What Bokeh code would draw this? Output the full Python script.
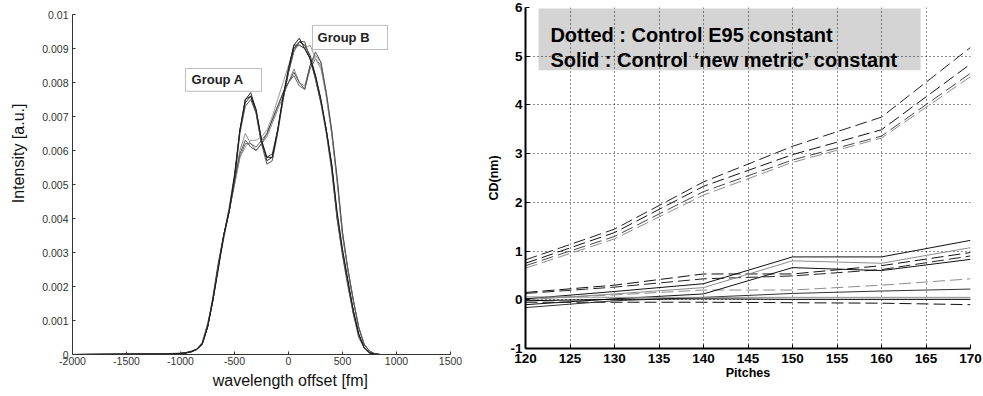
from bokeh.plotting import figure
from bokeh.layouts import row
from bokeh.models import BoxAnnotation, Label, FixedTicker, CustomJSTickFormatter, Range1d
from bokeh.embed import file_html
from bokeh.resources import INLINE

# ---------------- left chart data ----------------
wavelength = [-2000, -1500, -1100, -1000, -950, -900, -850, -800, -750, -700, -650, -600, -550, -500,
              -450, -400, -350, -300, -250, -200, -150, -100, -50, 0, 50, 100, 150, 200, 250, 300,
              350, 400, 450, 500, 550, 600, 650, 700, 750, 800, 850, 1130]

group_a_1 = [0, 0.00001, 0.00002, 0.00003, 0.00005, 0.00008, 0.00015, 0.0003, 0.0008, 0.0016, 0.0026, 0.0035, 0.0042, 0.0052,
             0.0066, 0.0075, 0.0077, 0.0072, 0.0063, 0.0057, 0.0058, 0.0066, 0.0075, 0.0083, 0.0090, 0.0092, 0.0091, 0.0088,
             0.0082, 0.0075, 0.0066, 0.0056, 0.0041, 0.0030, 0.0021, 0.0013, 0.0006, 0.0002, 0.00005, 0.00001, 0, 0]
group_a_2 = [0, 0, 0.00001, 0.00002, 0.00004, 0.00008, 0.00014, 0.0003, 0.0008, 0.0017, 0.0027, 0.0035, 0.0043, 0.0053,
             0.0066, 0.0074, 0.0076, 0.0071, 0.0062, 0.0058, 0.0059, 0.0066, 0.0076, 0.0084, 0.0091, 0.0091, 0.0090, 0.0087,
             0.0081, 0.0074, 0.0066, 0.0055, 0.0040, 0.0030, 0.0021, 0.0012, 0.0006, 0.0002, 0.00005, 0.00001, 0, 0]
group_a_3 = [0, 0.00002, 0.00003, 0.00004, 0.00006, 0.0001, 0.00016, 0.00035, 0.0009, 0.0016, 0.0026, 0.0034, 0.0042, 0.0051,
             0.0065, 0.0073, 0.0075, 0.0071, 0.0062, 0.0056, 0.0057, 0.0065, 0.0075, 0.0083, 0.0089, 0.0092, 0.0092, 0.0087,
             0.0081, 0.0074, 0.0065, 0.0054, 0.0040, 0.0029, 0.0020, 0.0012, 0.0005, 0.0002, 0.00004, 0.00001, 0, 0]
group_a_4 = [0, 0.00001, 0.00002, 0.00003, 0.00005, 0.00009, 0.00015, 0.0003, 0.0008, 0.0016, 0.0025, 0.0035, 0.0042, 0.0052,
             0.0066, 0.0075, 0.0076, 0.0072, 0.0063, 0.0058, 0.0058, 0.0066, 0.0076, 0.0084, 0.0091, 0.0093, 0.0090, 0.0087,
             0.0082, 0.0075, 0.0066, 0.0056, 0.0042, 0.0031, 0.0022, 0.0013, 0.0006, 0.0002, 0.00005, 0.00001, 0, 0]

group_b_1 = [0, 0.00001, 0.00002, 0.00003, 0.00005, 0.00008, 0.00015, 0.0003, 0.0008, 0.0016, 0.0026, 0.0035, 0.0042, 0.0051,
             0.0060, 0.0065, 0.0062, 0.0060, 0.0062, 0.0064, 0.0068, 0.0072, 0.0076, 0.0080, 0.0084, 0.0080, 0.0079, 0.0085,
             0.0088, 0.0086, 0.0077, 0.0066, 0.0052, 0.0036, 0.0025, 0.0016, 0.0008, 0.0003, 0.0001, 0.00002, 0, 0]
group_b_2 = [0, 0.00001, 0.00002, 0.00003, 0.00005, 0.00008, 0.00015, 0.0003, 0.0008, 0.0016, 0.0026, 0.0035, 0.0042, 0.0050,
             0.0058, 0.0062, 0.0062, 0.0061, 0.0063, 0.0065, 0.0069, 0.0073, 0.0077, 0.0080, 0.0082, 0.0079, 0.0078, 0.0084,
             0.0087, 0.0085, 0.0076, 0.0065, 0.0051, 0.0035, 0.0025, 0.0016, 0.0008, 0.0003, 0.0001, 0.00002, 0, 0]
group_b_3 = [0, 0.00001, 0.00002, 0.00003, 0.00005, 0.00008, 0.00015, 0.0003, 0.0008, 0.0016, 0.0026, 0.0035, 0.0042, 0.0050,
             0.0058, 0.0061, 0.0063, 0.0063, 0.0064, 0.0066, 0.0070, 0.0075, 0.0080, 0.0085, 0.0090, 0.0091, 0.0090, 0.0091,
             0.0087, 0.0084, 0.0076, 0.0065, 0.0051, 0.0035, 0.0025, 0.0016, 0.0008, 0.0003, 0.0001, 0.00002, 0, 0]
group_b_4 = [0, 0.00001, 0.00002, 0.00003, 0.00005, 0.00008, 0.00015, 0.0003, 0.0008, 0.0016, 0.0026, 0.0035, 0.0042, 0.0051,
             0.0059, 0.0063, 0.0061, 0.0060, 0.0062, 0.0065, 0.0069, 0.0073, 0.0077, 0.0080, 0.0083, 0.0080, 0.0078, 0.0085,
             0.0089, 0.0086, 0.0077, 0.0066, 0.0052, 0.0036, 0.0025, 0.0016, 0.0008, 0.0003, 0.0001, 0.00002, 0, 0]

wl_ticks = [-2000, -1500, -1000, -500, 0, 500, 1000, 1500]
intensity_ticks = [0, 0.001, 0.002, 0.003, 0.004, 0.005, 0.006, 0.007, 0.008, 0.009, 0.01]

# ---------------- right chart data ----------------
pitches = [120, 130, 140, 150, 160, 170]
pitch_ticks = [120, 125, 130, 135, 140, 145, 150, 155, 160, 165, 170]
cd_ticks = [-1, 0, 1, 2, 3, 4, 5, 6]

dotted_1 = [0.82, 1.45, 2.42, 3.15, 3.75, 5.18]
dotted_2 = [0.75, 1.38, 2.33, 2.98, 3.49, 4.84]
dotted_3 = [0.70, 1.30, 2.22, 2.87, 3.36, 4.65]
dotted_4 = [0.65, 1.25, 2.15, 2.82, 3.32, 4.58]
dotted_5 = [0.15, 0.30, 0.53, 0.53, 0.70, 0.97]
dotted_6 = [0.13, 0.26, 0.43, 0.49, 0.62, 0.90]
dotted_7 = [0.02, 0.10, 0.20, 0.20, 0.30, 0.43]
dotted_8 = [-0.05, -0.05, -0.05, -0.06, -0.07, -0.10]

solid_1 = [0.02, 0.17, 0.33, 0.88, 0.88, 1.22]
solid_2 = [0.00, 0.12, 0.25, 0.80, 0.75, 1.07]
solid_3 = [-0.10, 0.02, 0.12, 0.66, 0.60, 0.83]
solid_4 = [-0.16, -0.02, 0.05, 0.13, 0.18, 0.22]
solid_5 = [0.06, 0.05, 0.05, 0.05, 0.05, 0.05]
solid_6 = [-0.02, 0.01, 0.02, 0.01, 0.01, 0.01]

FONT = "Liberation Sans"
plain_fmt = "return String(Math.round(tick));"
NBSP = "\u00a0"

# ================= left figure =================
p1 = figure(frame_width=378, frame_height=340, output_backend="svg", toolbar_location=None,
            x_range=Range1d(-2000, 1500), y_range=Range1d(0, 0.01), frame_align=False,
            min_border_left=72, min_border_right=30, min_border_top=14, min_border_bottom=42)
p1.outline_line_color = None
p1.grid.visible = False
p1.background_fill_color = "white"
p1.border_fill_color = "white"

for ys, col in [(group_b_1, "#8a8a8a"), (group_b_2, "#6a6a6a"), (group_b_3, "#9a9a9a"), (group_b_4, "#505050"),
                (group_a_1, "#2a2a2a"), (group_a_2, "#3c3c3c"), (group_a_3, "#555555"), (group_a_4, "#1a1a1a")]:
    p1.line(wavelength, ys, line_color=col, line_width=1.0)

p1.xaxis.ticker = FixedTicker(ticks=wl_ticks)
p1.yaxis.ticker = FixedTicker(ticks=intensity_ticks)
p1.xaxis.formatter = CustomJSTickFormatter(code=plain_fmt)
p1.yaxis.formatter = CustomJSTickFormatter(
    code="if (Math.abs(tick) < 1e-12) { return '0'; } return tick.toFixed(3).replace(/0+$/, '');")
for ax in (p1.xaxis[0], p1.yaxis[0]):
    ax.axis_line_color = "#333333"
    ax.major_tick_line_color = "#333333"
    ax.major_tick_in = 3
    ax.major_tick_out = 0
    ax.minor_tick_line_color = None
    ax.major_label_text_font = FONT
    ax.major_label_text_font_size = "10.5px"
    ax.major_label_text_color = "#333333"
    ax.axis_label_text_font = FONT
    ax.axis_label_text_font_size = "16px"
    ax.axis_label_text_font_style = "normal"
    ax.axis_label_text_color = "#111111"
# leading no-break spaces shift the titles off-centre, as in the reference
p1.xaxis.axis_label = NBSP * 13 + "wavelength offset [fm]"
p1.yaxis.axis_label = NBSP * 14 + "Intensity [a.u.]"
p1.xaxis.major_label_standoff = 2
p1.yaxis.major_label_standoff = 4
p1.xaxis.axis_label_standoff = 4
p1.yaxis.axis_label_standoff = 12

box_a = BoxAnnotation(left=-954, right=-250, bottom=0.00774, top=0.00841,
                      fill_color="white", fill_alpha=1, line_color="#222222", line_width=1)
box_b = BoxAnnotation(left=222, right=917, bottom=0.00897, top=0.00968,
                      fill_color="white", fill_alpha=1, line_color="#222222", line_width=1)
p1.add_layout(box_a)
p1.add_layout(box_b)
p1.add_layout(Label(x=-898, y=0.00808, text="Group A", text_font=FONT, text_font_size="13px",
                    text_font_style="bold", text_baseline="middle", text_color="#222222"))
p1.add_layout(Label(x=269, y=0.00932, text="Group B", text_font=FONT, text_font_size="13px",
                    text_font_style="bold", text_baseline="middle", text_color="#222222"))

# ================= right figure =================
p2 = figure(frame_width=445, frame_height=341, output_backend="svg", toolbar_location=None,
            x_range=Range1d(120, 170), y_range=Range1d(-1, 6), frame_align=False,
            min_border_left=45, min_border_right=13, min_border_top=7, min_border_bottom=48)
p2.outline_line_color = None
p2.background_fill_color = "white"
p2.border_fill_color = "white"
p2.xaxis.ticker = FixedTicker(ticks=pitch_ticks)
p2.yaxis.ticker = FixedTicker(ticks=cd_ticks)
p2.xaxis.formatter = CustomJSTickFormatter(code=plain_fmt)
p2.yaxis.formatter = CustomJSTickFormatter(code=plain_fmt)
p2.grid.grid_line_color = "black"
p2.grid.grid_line_dash = "1 3"
p2.grid.grid_line_width = 1
p2.grid.grid_line_alpha = 0.9

legend_box = BoxAnnotation(left=121.46, right=164.4, bottom=4.71, top=5.98, level="image",
                           fill_color="#d4d4d4", fill_alpha=1, line_color=None)
p2.add_layout(legend_box)

for ys, col in [(dotted_4, "#8c8c8c"), (dotted_3, "#444444"), (dotted_2, "#111111"), (dotted_1, "#222222"),
                (dotted_7, "#8c8c8c"), (dotted_6, "#222222"), (dotted_5, "#111111"), (dotted_8, "#111111")]:
    p2.line(pitches, ys, line_color=col, line_width=1, line_dash="12 5")
for ys, col in [(solid_1, "#111111"), (solid_2, "#8c8c8c"), (solid_3, "#111111"),
                (solid_4, "#333333"), (solid_5, "#8c8c8c"), (solid_6, "#000000")]:
    p2.line(pitches, ys, line_color=col, line_width=1)

for ax in (p2.xaxis[0], p2.yaxis[0]):
    ax.axis_line_color = "black"
    ax.axis_line_width = 2
    ax.major_tick_line_color = "black"
    ax.major_tick_in = 4
    ax.major_tick_out = 0
    ax.minor_tick_line_color = None
    ax.major_label_text_font = FONT
    ax.major_label_text_font_size = "13.5px"
    ax.major_label_text_font_style = "bold"
    ax.major_label_text_color = "black"
    ax.axis_label_text_font = FONT
    ax.axis_label_text_font_size = "12.5px"
    ax.axis_label_text_font_style = "bold"
    ax.axis_label_text_color = "black"
p2.xaxis.axis_label = "Pitches"
p2.yaxis.axis_label = "CD(nm)"
p2.xaxis.major_label_standoff = 5
p2.yaxis.major_label_standoff = 3
p2.xaxis.axis_label_standoff = 0
p2.yaxis.axis_label_standoff = 6

p2.add_layout(Label(x=122.8, y=5.43, text="Dotted : Control E95 constant", text_font=FONT,
                    text_font_size="20px", text_font_style="bold", text_color="black",
                    text_baseline="alphabetic"))
p2.add_layout(Label(x=122.8, y=4.92, text="Solid : Control \u2018new metric\u2019 constant", text_font=FONT,
                    text_font_size="20px", text_font_style="bold", text_color="black",
                    text_baseline="alphabetic"))

layout = row(p1, p2, spacing=0)
open("out.html", "w").write(file_html(layout, INLINE))
